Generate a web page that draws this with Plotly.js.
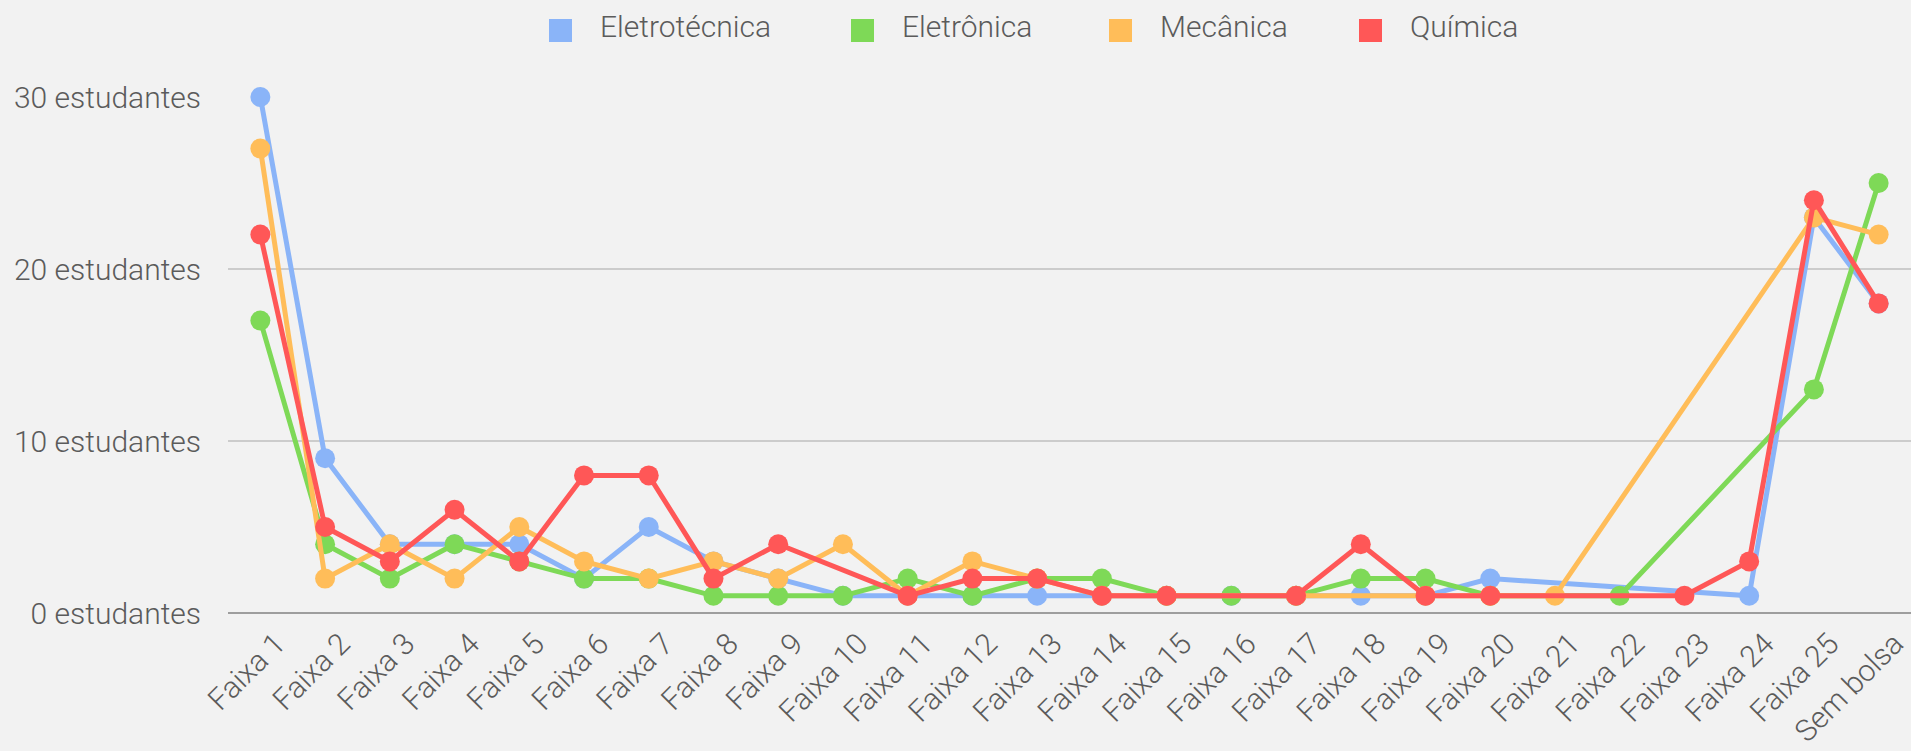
<!DOCTYPE html>
<html>
<head>
<meta charset="utf-8">
<script src="https://cdn.plot.ly/plotly-3.0.1.min.js"></script>
<style>
  html, body { margin: 0; padding: 0; background: #f2f2f2; }
  #chart { width: 1911px; height: 751px; }
</style>
</head>
<body>
<div id="chart"></div>
<script>
// categories (faixas de renda)
var faixas = ['Faixa 1', 'Faixa 2', 'Faixa 3', 'Faixa 4', 'Faixa 5', 'Faixa 6', 'Faixa 7',
  'Faixa 8', 'Faixa 9', 'Faixa 10', 'Faixa 11', 'Faixa 12', 'Faixa 13', 'Faixa 14',
  'Faixa 15', 'Faixa 16', 'Faixa 17', 'Faixa 18', 'Faixa 19', 'Faixa 20', 'Faixa 21',
  'Faixa 22', 'Faixa 23', 'Faixa 24', 'Faixa 25', 'Sem bolsa'];

// students per course (null = no value, line is joined over it)
var eletrotecnica = [30, 9, 4, 4, 4, 2, 5, 3, 2, 1, 1, 1, 1, 1, 1, 1, 1, 1, 1, 2, null, null, null, 1, 23, 18];
var eletronica    = [17, 4, 2, 4, 3, 2, 2, 1, 1, 1, 2, 1, 2, 2, 1, 1, 1, 2, 2, 1, null, 1, null, null, 13, 25];
var mecanica      = [27, 2, 4, 2, 5, 3, 2, 3, 2, 4, 1, 3, 2, 1, 1, null, 1, null, 1, 1, 1, null, null, null, 23, 22];
var quimica       = [22, 5, 3, 6, 3, 8, 8, 2, 4, null, 1, 2, 2, 1, 1, null, 1, 4, 1, 1, null, null, 1, 3, 24, 18];

var cursos = ['Eletrotécnica', 'Eletrônica', 'Mecânica', 'Química'];
var valores = [eletrotecnica, eletronica, mecanica, quimica];
var cores = ['#8ab4f8', '#7ed957', '#ffbd59', '#ff5757'];

var textColor = '#5b5b5b';
var fontFamily = 'Roboto, "Noto Sans", sans-serif';

// plot box in pixels
var W = 1911, H = 751;
var M = { l: 228, r: 0, t: 97, b: 138 };
var plotW = W - M.l - M.r, plotH = H - M.t - M.b;
function px2x(px) { return (px - M.l) / plotW; }
function py2y(py) { return (H - M.b - py) / plotH; }

// legend swatch left edges (px)
var legendSwatchX = [549, 851, 1109, 1359];
var legendTop = 19, legendSwatch = 23;

var traces = [];
for (let i = 0; i < cursos.length; i++) {
  traces.push({
    x: faixas,
    y: valores[i],
    name: cursos[i],
    type: 'scatter',
    mode: 'lines+markers',
    connectgaps: true,
    line: { color: cores[i], width: 5 },
    marker: { color: cores[i], size: 20 },
    showlegend: false,
    cliponaxis: false
  });
}

// legend drawn by hand: square swatch + label
var shapes = [];
var annotations = [];
for (let i = 0; i < cursos.length; i++) {
  shapes.push({
    type: 'rect', xref: 'paper', yref: 'paper',
    x0: px2x(legendSwatchX[i]), x1: px2x(legendSwatchX[i] + legendSwatch),
    y0: py2y(legendTop + legendSwatch), y1: py2y(legendTop),
    fillcolor: cores[i], line: { width: 0 }, layer: 'above'
  });
  annotations.push({
    xref: 'paper', yref: 'paper',
    x: px2x(legendSwatchX[i] + 49), y: py2y(legendTop + 8),
    xanchor: 'left', yanchor: 'middle',
    text: cursos[i], showarrow: false,
    font: { size: 30, color: textColor, family: fontFamily, weight: 300 }
  });
}

var layout = {
  width: W,
  height: H,
  paper_bgcolor: '#f2f2f2',
  plot_bgcolor: '#f2f2f2',
  font: { family: fontFamily, color: textColor, size: 30, weight: 300 },
  margin: M,
  showlegend: false,
  shapes: shapes,
  annotations: annotations,
  xaxis: {
    type: 'category',
    range: [-0.5, 25.5],
    tickangle: -45,
    showgrid: false,
    showline: false,
    zeroline: false,
    ticks: '',
    automargin: false,
    ticklabelshift: 16,
    ticklabelstandoff: 6,
    tickfont: { size: 30, color: textColor }
  },
  yaxis: {
    range: [0, 30],
    dtick: 10,
    tick0: 0,
    ticksuffix: ' estudantes',
    showgrid: true,
    gridcolor: '#cccccc',
    gridwidth: 2,
    zeroline: true,
    zerolinecolor: '#9e9e9e',
    zerolinewidth: 2,
    ticks: '',
    ticklabelstandoff: 26,
    automargin: false,
    fixedrange: true,
    tickfont: { size: 30, color: textColor }
  }
};

Plotly.newPlot('chart', traces, layout, { staticPlot: true, displayModeBar: false });
</script>
</body>
</html>
